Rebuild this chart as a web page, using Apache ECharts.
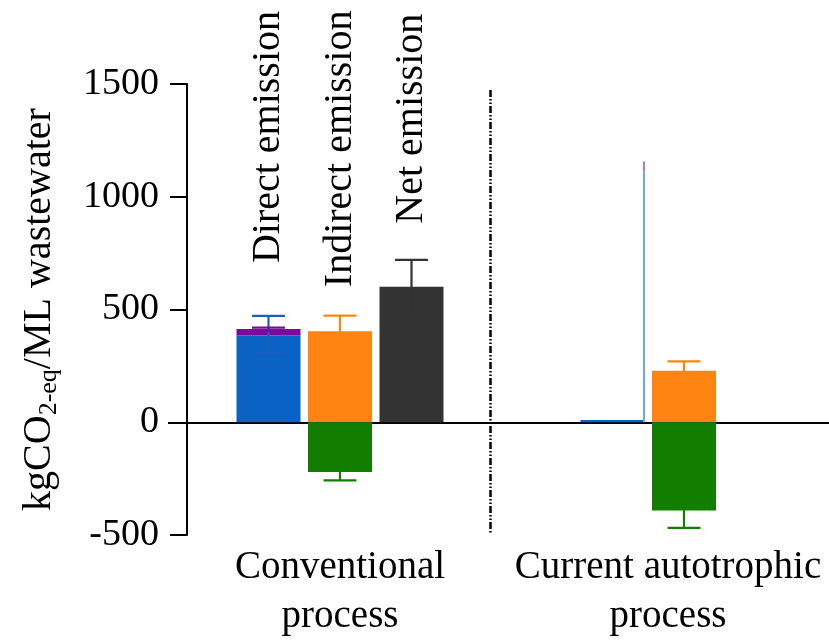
<!DOCTYPE html>
<html>
<head>
<meta charset="utf-8">
<script src="https://cdn.jsdelivr.net/npm/echarts@6/dist/echarts.min.js"></script>
<style>html,body{margin:0;padding:0;background:#fff}#c{width:829px;height:640px}</style>
</head>
<body>
<div id="c"></div>
<script>
// ---- data ----
const categories = ['Conventional\nprocess', 'Current autotrophic\nprocess'];
const topLabels = ['Direct emission', 'Indirect emission', 'Net emission'];
const yTicks = [-500, 0, 500, 1000, 1500];

const directBase = [385, 10];
const directTop = [28, 0];
const indirectPos = [404, 228];
const indirectNeg = [-221, -391];
const netEmission = [601, null];

const directErrLow = [307, null];
const directErrHigh = [472, null];
const directTopErrLow = [406, null];
const directTopErrHigh = [420, null];
const indirectPosErrLow = [335, 186];
const indirectPosErrHigh = [473, 270];
const indirectNegErrLow = [-258, -468];
const indirectNegErrHigh = [-184, -314];
const netErrLow = [482, null];
const netErrHigh = [720, null];

// thin spike seen at the right group's direct bar
const spikeLow = [null, 0];
const spikeMid = [null, 1112];
const spikeHigh = [null, 1156];

// ---- styles ----
const FONT = 'Liberation Serif';
const BAR_W = 64, GAP = 7.5, SLOT = BAR_W + GAP, CAP = 33;
const C_BLUE = '#0a62c4', C_PURPLE = '#7a0a9a', C_ORANGE = '#ff8412', C_GREEN = '#117e00', C_DARK = '#333333';
const C_BLUE_ERR = '#1a5fc0';

function errItems(lows, highs, slot, color) {
  const out = [];
  lows.forEach((lo, i) => {
    if (lo == null || highs[i] == null) return;
    out.push({ value: [i, lo, highs[i], slot], itemStyle: { color } });
  });
  return out;
}
const errData = [].concat(
  errItems(directErrLow, directErrHigh, -1, C_BLUE_ERR),
  errItems(directTopErrLow, directTopErrHigh, -1, C_PURPLE),
  errItems(indirectPosErrLow, indirectPosErrHigh, 0, C_ORANGE),
  errItems(indirectNegErrLow, indirectNegErrHigh, 0, C_GREEN),
  errItems(netErrLow, netErrHigh, 1, C_DARK)
);
const spikeData = [];
spikeLow.forEach((v, i) => { if (v != null) spikeData.push([i, v, spikeMid[i], spikeHigh[i]]); });

function topLabel(text, distance) {
  return {
    show: true, position: 'top', distance, rotate: 90, align: 'left', verticalAlign: 'middle',
    fontFamily: FONT, fontSize: 40, color: '#000',
    formatter: p => p.dataIndex === 0 ? text : ''
  };
}
const barCommon = { type: 'bar', barWidth: BAR_W, barGap: (GAP / BAR_W * 100) + '%', z: 2 };

const chart = echarts.init(document.getElementById('c'), null, { renderer: 'canvas' });
chart.setOption({
  animation: false,
  backgroundColor: '#fff',
  grid: { left: 168, top: 84, width: 688, height: 451, containLabel: false, outerBoundsMode: 'none' },
  xAxis: {
    type: 'category', data: categories, position: 'bottom',
    axisLine: { show: false, onZero: false }, axisTick: { show: false },
    axisLabel: {
      interval: 0, margin: 8, color: '#000', fontFamily: FONT, fontSize: 39, lineHeight: 49,
      hideOverlap: false,
      formatter: (v, i) => i === 1 ? v.split('\n').map(s => '{r|' + s + '}').join('\n') : v,
      rich: { r: { fontFamily: FONT, fontSize: 39, lineHeight: 49, color: '#000', padding: [0, 32, 0, 0] } }
    }
  },
  yAxis: {
    type: 'value', min: yTicks[0], max: yTicks[yTicks.length - 1], interval: 500, offset: -19,
    axisLine: { show: true, onZero: false, lineStyle: { color: '#000', width: 2 } },
    axisTick: { show: true, length: 17, lineStyle: { color: '#000', width: 2 } },
    splitLine: { show: false },
    axisLabel: { color: '#000', fontFamily: FONT, fontSize: 38, margin: 28, formatter: v => String(v) },
    name: 'kgCO{sub|2-eq}/ML wastewater',
    nameLocation: 'middle', nameRotate: 90, nameGap: 125,
    nameTextStyle: {
      color: '#000', fontFamily: FONT, fontSize: 40,
      rich: { sub: { fontFamily: FONT, fontSize: 26, color: '#000', verticalAlign: 'bottom', padding: [20, 0, 0, 0] } }
    }
  },
  series: [
    Object.assign({ name: 'Direct', stack: 'direct', data: directBase, itemStyle: { color: C_BLUE } }, barCommon),
    Object.assign({ name: 'Direct top', stack: 'direct', data: directTop, itemStyle: { color: C_PURPLE },
      label: topLabel(topLabels[0], 66) }, barCommon),
    Object.assign({ name: 'Indirect +', stack: 'indirect', data: indirectPos, itemStyle: { color: C_ORANGE },
      label: topLabel(topLabels[1], 44) }, barCommon),
    Object.assign({ name: 'Indirect -', stack: 'indirect', data: indirectNeg, itemStyle: { color: C_GREEN } }, barCommon),
    Object.assign({ name: 'Net', data: netEmission, itemStyle: { color: C_DARK },
      label: topLabel(topLabels[2], 63) }, barCommon),
    { name: 'err', type: 'custom', z: 4, clip: false, data: errData,
      renderItem: (params, api) => {
        const x = api.coord([api.value(0), 0])[0] + api.value(3) * SLOT;
        const y1 = api.coord([api.value(0), api.value(1)])[1];
        const y2 = api.coord([api.value(0), api.value(2)])[1];
        const st = { stroke: api.visual('color'), lineWidth: 2.2 };
        return { type: 'group', children: [
          { type: 'line', shape: { x1: x, y1: y1, x2: x, y2: y2 }, style: st },
          { type: 'line', shape: { x1: x - CAP / 2, y1: y1, x2: x + CAP / 2, y2: y1 }, style: st },
          { type: 'line', shape: { x1: x - CAP / 2, y1: y2, x2: x + CAP / 2, y2: y2 }, style: st }
        ] };
      }
    },
    { name: 'spike', type: 'custom', z: 4, clip: false, data: spikeData,
      renderItem: (params, api) => {
        const x = api.coord([api.value(0), 0])[0] - SLOT + BAR_W / 2 - 0.5;
        const y0 = api.coord([api.value(0), api.value(1)])[1];
        const y1 = api.coord([api.value(0), api.value(2)])[1];
        const y2 = api.coord([api.value(0), api.value(3)])[1];
        return { type: 'group', children: [
          { type: 'line', shape: { x1: x, y1: y0, x2: x, y2: y1 }, style: { stroke: '#6fa6f2', lineWidth: 2 } },
          { type: 'line', shape: { x1: x, y1: y1, x2: x, y2: y2 }, style: { stroke: '#c070e2', lineWidth: 2 } }
        ] };
      },
      markLine: { silent: true, symbol: 'none', z: 1, label: { show: false },
        lineStyle: { color: '#000', width: 2.2, type: 'solid' },
        data: [{ yAxis: 0 }] }
    }
  ],
  graphic: [
    { type: 'line', z: 10, shape: { x1: 490.5, y1: 90, x2: 490.5, y2: 533 },
      style: { stroke: '#000', lineWidth: 2.5, lineDash: [7, 2, 1.5, 2, 1.5, 2] } }
  ]
});
</script>
</body>
</html>
